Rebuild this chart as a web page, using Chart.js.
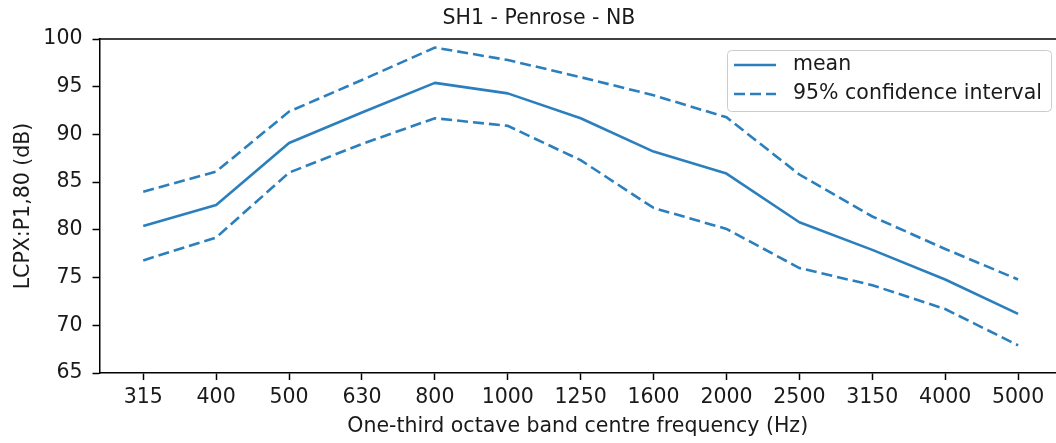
<!DOCTYPE html>
<html>
<head>
<meta charset="utf-8">
<script src="https://cdn.jsdelivr.net/npm/chart.js@4"></script>
<style>
  html, body { margin: 0; padding: 0; background: #ffffff; }
  #c { display: block; }
</style>
</head>
<body>
<canvas id="c" width="1056" height="443"></canvas>
<script>
const chartTitle = 'SH1 - Penrose - NB';
const xAxisTitle = 'One-third octave band centre frequency (Hz)';
const yAxisTitle = 'LCPX:P1,80 (dB)';
const categories = ['315', '400', '500', '630', '800', '1000', '1250', '1600', '2000', '2500', '3150', '4000', '5000'];
const meanValues = [80.4, 82.6, 89.1, 92.3, 95.4, 94.3, 91.7, 88.2, 85.9, 80.8, 77.9, 74.8, 71.2];
const upperCI = [84.0, 86.1, 92.4, 95.7, 99.1, 97.8, 96.0, 94.1, 91.8, 85.8, 81.4, 78.0, 74.8];
const lowerCI = [76.8, 79.2, 86.0, 89.0, 91.7, 90.9, 87.3, 82.3, 80.1, 76.0, 74.2, 71.7, 67.9];
const yTicks = [65, 70, 75, 80, 85, 90, 95, 100];

const lineColor = '#2b7fbd';
const textColor = '#1a1a1a';
const FONT = "'DejaVu Sans', sans-serif";
const FS = 20.5;
const dash = [11, 5];

function toPoints(arr) { return arr.map((v, i) => ({ x: i, y: v })); }

const framePlugin = {
  id: 'frame',
  afterDraw(chart) {
    const ctx = chart.ctx;
    const a = chart.chartArea;
    ctx.save();
    // top spine
    ctx.strokeStyle = '#000';
    ctx.lineWidth = 1.5;
    ctx.beginPath();
    ctx.moveTo(a.left - 0.75, a.top);
    ctx.lineTo(a.right + 2, a.top);
    ctx.stroke();
    // title
    ctx.fillStyle = textColor;
    ctx.font = FS + 'px ' + FONT;
    ctx.textAlign = 'center';
    ctx.textBaseline = 'middle';
    ctx.fillText(chartTitle, 539, 19);
    // legend
    const bx = 727.5, by = 50.5, bw = 324, bh = 61, r = 4;
    ctx.beginPath();
    ctx.moveTo(bx + r, by);
    ctx.lineTo(bx + bw - r, by);
    ctx.arcTo(bx + bw, by, bx + bw, by + r, r);
    ctx.lineTo(bx + bw, by + bh - r);
    ctx.arcTo(bx + bw, by + bh, bx + bw - r, by + bh, r);
    ctx.lineTo(bx + r, by + bh);
    ctx.arcTo(bx, by + bh, bx, by + bh - r, r);
    ctx.lineTo(bx, by + r);
    ctx.arcTo(bx, by, bx + r, by, r);
    ctx.closePath();
    ctx.fillStyle = 'rgba(255,255,255,0.8)';
    ctx.fill();
    ctx.strokeStyle = '#cccccc';
    ctx.lineWidth = 1;
    ctx.stroke();
    const entries = chart.data.datasets.filter(d => !d.hideInLegend);
    const rows = [65, 94];
    entries.forEach((d, i) => {
      const y = rows[i];
      ctx.strokeStyle = d.borderColor;
      ctx.lineWidth = d.borderWidth;
      ctx.setLineDash(d.borderDash || []);
      ctx.beginPath();
      ctx.moveTo(734, y);
      ctx.lineTo(776, y);
      ctx.stroke();
      ctx.setLineDash([]);
      ctx.fillStyle = textColor;
      ctx.font = FS + 'px ' + FONT;
      ctx.textAlign = 'left';
      ctx.textBaseline = 'middle';
      ctx.fillText(d.label, 793, y);
    });
    ctx.restore();
  }
};

new Chart(document.getElementById('c'), {
  type: 'line',
  data: {
    datasets: [
      { label: 'mean', data: toPoints(meanValues), borderColor: lineColor, borderWidth: 2.6, pointRadius: 0, tension: 0, fill: false, borderJoinStyle: 'round' },
      { label: '95% confidence interval', data: toPoints(upperCI), borderColor: lineColor, borderWidth: 2.6, borderDash: dash, pointRadius: 0, tension: 0, fill: false },
      { label: '95% confidence interval (lower)', hideInLegend: true, data: toPoints(lowerCI), borderColor: lineColor, borderWidth: 2.6, borderDash: dash, pointRadius: 0, tension: 0, fill: false }
    ]
  },
  options: {
    responsive: false,
    animation: false,
    devicePixelRatio: 1,
    layout: { padding: { top: 39, left: 0, right: 0, bottom: 0 } },
    plugins: { legend: { display: false }, title: { display: false }, tooltip: { enabled: false } },
    scales: {
      x: {
        type: 'linear',
        min: -0.6,
        max: 12.52,
        afterBuildTicks: s => { s.ticks = categories.map((c, i) => ({ value: i })); },
        afterFit: s => { s.height = 70; },
        ticks: {
          autoSkip: false, maxRotation: 0, minRotation: 0,
          callback: v => categories[v],
          font: { family: FONT, size: FS }, color: textColor, padding: 5
        },
        grid: { drawOnChartArea: false, drawTicks: true, tickLength: 7, tickColor: '#000', tickWidth: 1.5 },
        border: { color: '#000', width: 1.5 },
        title: { display: true, text: xAxisTitle, font: { family: FONT, size: FS }, color: textColor, padding: { top: 0, bottom: 4 } }
      },
      y: {
        min: 65,
        max: 100,
        afterBuildTicks: s => { s.ticks = yTicks.map(v => ({ value: v })); },
        afterFit: s => { s.width = 99.5; },
        ticks: { font: { family: FONT, size: FS }, color: textColor, padding: 10 },
        grid: { drawOnChartArea: false, drawTicks: true, tickLength: 7, tickColor: '#000', tickWidth: 1.5 },
        border: { color: '#000', width: 1.5 },
        title: { display: true, text: yAxisTitle, font: { family: FONT, size: FS }, color: textColor, padding: { top: 11, bottom: 0 } }
      }
    }
  },
  plugins: [framePlugin]
});
</script>
</body>
</html>
